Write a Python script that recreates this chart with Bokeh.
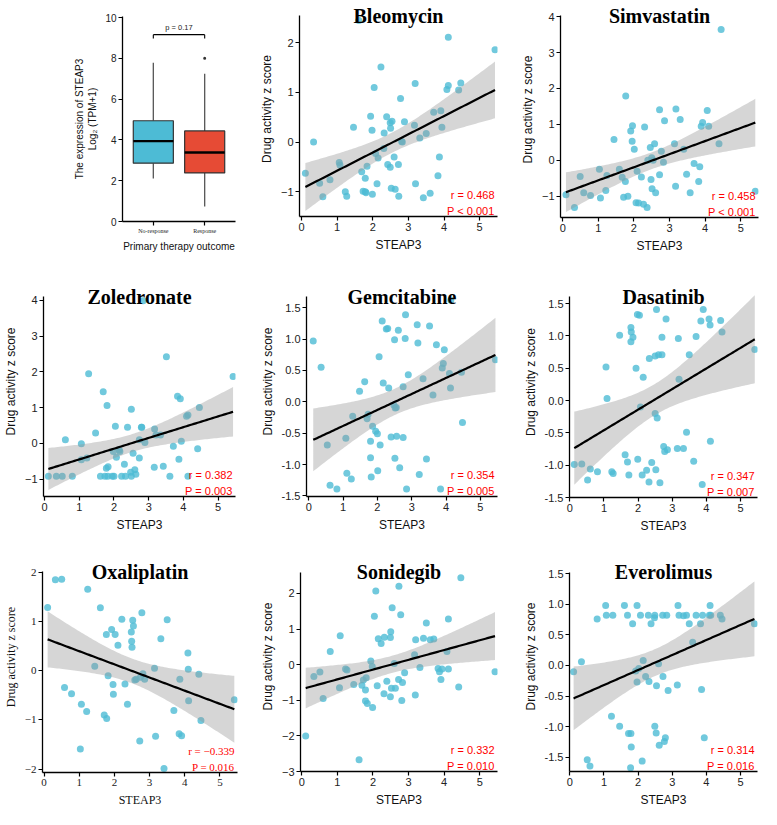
import numpy as np
from bokeh.plotting import figure
from bokeh.layouts import column, row
from bokeh.models import Range1d, FixedTicker, PrintfTickFormatter, Label
from bokeh.embed import file_html
from bokeh.resources import INLINE

# ---------------- boxplot data ----------------
groups = ["No-response", "Response"]
box_lower = [2.11, 0.73]
box_q1 = [2.86, 2.38]
box_median = [3.94, 3.38]
box_q3 = [4.94, 4.44]
box_upper = [7.78, 7.24]
box_colors = ["#4DBBD5", "#E64B35"]
outlier_group = [2]
outlier_values = [8.0]
bracket_y = 9.16
bracket_tip = 8.97
p_value_text = "p = 0.17"
box_yticks = [0, 2, 4, 6, 8, 10]

steap3_ticks = [0, 1, 2, 3, 4, 5]

# ---------------- scatter data ----------------
bleomycin_x = [0.11, 0.34, 0.51, 0.60, 0.80, 1.06, 1.08, 1.23, 1.27, 1.46,
               1.61, 1.69, 1.73, 1.79, 1.79, 1.81, 1.84, 1.94, 1.98, 1.99,
               2.04, 2.08, 2.12, 2.15, 2.23, 2.31, 2.32, 2.39, 2.42, 2.49,
               2.50, 2.49, 2.54, 2.52, 2.60, 2.63, 2.72, 2.73, 2.78, 2.81,
               2.83, 2.89, 3.17, 3.19, 3.20, 3.32, 3.42, 3.50, 3.61, 3.71,
               3.83, 3.87, 3.91, 3.94, 4.08, 4.12, 4.12, 4.41, 4.47, 5.43]
bleomycin_y = [-0.63, 0.00, -0.83, -1.10, -0.76, -0.41, -0.46, -1.00, -1.09, 0.30,
               2.45, -0.60, -0.99, -0.73, -1.00, -1.02, -0.49, 0.52, 0.24, -1.05,
               1.10, -0.23, -0.84, -0.32, 1.51, -0.13, 0.18, 0.51, -0.45, 0.39,
               0.28, -0.51, 0.42, -0.93, -0.30, -0.95, -0.45, -1.09, 0.88, 0.01,
               0.00, 0.41, 0.34, 1.18, -0.84, 0.08, -1.12, 0.17, -1.03, 0.60,
               -0.68, -0.30, 0.63, 0.30, 1.06, 1.14, 2.11, 1.05, 1.19, 1.86]

simvastatin_x = [0.09, 0.33, 0.49, 0.59, 0.78, 1.03, 1.06, 1.21, 1.24, 1.44,
                 1.59, 1.67, 1.71, 1.76, 1.77, 1.83, 1.91, 1.95, 1.96, 2.01,
                 2.06, 2.09, 2.13, 2.21, 2.27, 2.30, 2.37, 2.39, 2.46, 2.48,
                 2.50, 2.51, 2.54, 2.58, 2.61, 2.72, 2.72, 2.77, 2.83, 2.86,
                 3.14, 3.17, 3.18, 3.30, 3.40, 3.48, 3.58, 3.69, 3.82, 3.85,
                 3.89, 3.93, 4.06, 4.10, 4.39, 4.45, 5.41]
simvastatin_y = [-0.96, -1.31, -0.45, -0.90, -0.98, -0.25, -1.05, -0.84, -0.42, 0.58,
                 -0.25, -0.47, -1.03, -0.59, 1.79, -1.00, 0.82, 0.53, 0.96, 0.31,
                 -1.18, -0.30, -1.19, -0.46, -1.22, 0.93, -1.31, 0.00, 0.36, -0.53,
                 0.07, -0.79, 0.00, 0.46, -0.90, -0.40, 1.41, 0.25, -0.05, 1.10,
                 0.46, -0.72, 1.43, 1.14, 0.31, -0.39, -0.90, -0.09, -0.59, -0.18,
                 0.95, 1.05, 1.39, 0.95, 0.46, 3.64, -0.86]

zoledronate_x = [0.11, 0.34, 0.51, 0.60, 0.80, 1.06, 1.06, 1.22, 1.27, 1.47,
                 1.61, 1.69, 1.74, 1.78, 1.80, 1.83, 1.82, 1.95, 1.98, 2.00,
                 2.04, 2.07, 2.15, 2.17, 2.22, 2.30, 2.33, 2.39, 2.48, 2.50,
                 2.50, 2.55, 2.60, 2.63, 2.73, 2.73, 2.79, 2.80, 2.84, 2.89,
                 3.16, 3.17, 3.21, 3.34, 3.42, 3.51, 3.61, 3.71, 3.83, 3.87,
                 3.91, 3.94, 4.09, 4.13, 4.13, 4.41, 4.46, 5.43]
zoledronate_y = [-0.92, -0.92, -0.92, 0.10, -0.92, -0.01, -0.46, -0.41, 1.95, 0.29,
                 -0.92, 1.44, -0.92, -0.70, 1.06, -0.66, -0.92, -0.92, -0.23, -0.92,
                 0.48, -0.39, -0.19, -0.23, -0.92, -0.59, -0.92, 0.45, -0.81, 0.95,
                 -0.92, -0.28, -0.74, -0.87, -0.41, 0.10, 0.45, 0.45, 3.99, 0.02,
                 -0.67, 0.40, 0.23, 0.23, -0.64, 2.42, -0.92, -0.08, 1.32, -0.45,
                 1.25, 0.06, 0.76, 0.79, -0.92, -0.15, 1.00, 1.87]

gemcitabine_x = [0.13, 0.36, 0.54, 0.62, 0.82, 1.08, 1.11, 1.24, 1.28, 1.48,
                 1.63, 1.70, 1.73, 1.80, 1.80, 1.82, 1.86, 1.95, 2.00, 2.01,
                 2.05, 2.08, 2.14, 2.17, 2.26, 2.30, 2.33, 2.40, 2.48, 2.50,
                 2.51, 2.52, 2.55, 2.56, 2.61, 2.65, 2.75, 2.75, 2.81, 2.82,
                 2.85, 2.90, 3.16, 3.18, 3.22, 3.33, 3.43, 3.52, 3.62, 3.72,
                 3.89, 3.92, 3.84, 3.95, 4.10, 4.13, 4.14, 4.45, 4.48, 5.44]
gemcitabine_y = [0.97, 0.55, -0.69, -1.33, -1.39, -0.58, -1.14, -1.23, -0.23, 0.17,
                 0.32, -0.27, -0.20, -0.63, -0.89, -1.20, -0.39, -0.47, -0.51, -1.10,
                 0.72, -0.69, 1.29, 0.30, 1.16, 1.17, 0.22, -0.56, -0.05, 0.99,
                 -0.90, -0.10, -0.09, -0.55, 1.14, -1.05, 0.24, -0.57, 1.01, 1.39,
                 -1.39, 0.43, 1.23, 0.94, -1.16, 0.37, -0.91, 1.21, 0.11, 0.91,
                 0.54, 0.61, -1.39, 0.83, 0.45, 0.22, 1.62, 0.47, -0.33, 0.67]

dasatinib_x = [0.13, 0.35, 0.52, 0.60, 0.81, 1.06, 1.09, 1.23, 1.27, 1.46,
               1.62, 1.69, 1.73, 1.79, 1.80, 1.79, 1.85, 1.94, 1.98, 1.99,
               2.04, 2.07, 2.12, 2.15, 2.25, 2.32, 2.33, 2.40, 2.50, 2.50,
               2.52, 2.54, 2.56, 2.60, 2.64, 2.70, 2.70, 2.75, 2.78, 2.82,
               2.86, 3.15, 3.18, 3.20, 3.33, 3.42, 3.50, 3.63, 3.70, 3.84,
               3.88, 3.91, 4.08, 4.11, 4.12, 4.42, 4.46, 5.42]
dasatinib_y = [-0.99, -0.98, -1.23, -1.06, -1.10, 0.52, 0.03, -1.10, -1.13, 1.01,
               -0.84, -0.95, -1.15, 1.13, 1.06, 0.91, 0.98, 0.50, 1.33, -0.91,
               1.32, -0.10, -1.15, 0.36, -1.08, -1.26, 0.65, -0.96, 0.69, -0.20,
               -1.07, 1.41, -0.27, 0.71, -1.27, 0.71, 0.98, -0.71, -0.79, 1.26,
               -0.76, -0.74, 0.96, 0.33, -0.74, -0.49, 0.71, -0.94, 0.99, 1.23,
               -1.30, 1.41, 1.26, 1.17, -0.63, 1.24, 1.06, 0.79]

oxaliplatin_x = [0.10, 0.32, 0.50, 0.58, 0.78, 1.03, 1.06, 1.21, 1.24, 1.44,
                 1.60, 1.71, 1.77, 1.78, 1.82, 1.92, 1.96, 1.97, 2.02, 2.10,
                 2.21, 2.30, 2.37, 2.48, 2.49, 2.50, 2.52, 2.54, 2.58, 2.62,
                 2.72, 2.74, 2.78, 2.81, 2.86, 3.14, 3.17, 3.32, 3.41, 3.50,
                 3.69, 3.84, 3.86, 3.91, 4.09, 4.10, 4.11, 4.40, 4.46, 5.41]
oxaliplatin_y = [1.29, 1.85, 1.86, -0.34, -0.47, -1.59, -0.68, -0.83, 1.66, 0.09,
                 1.28, -0.90, 0.74, -0.97, -0.10, 0.84, -0.28, -0.48, 0.74, 0.52,
                 1.05, -0.27, -0.68, 0.79, 0.60, 0.48, 1.03, 0.91, -0.19, -0.17,
                 -1.43, -0.13, 1.18, -0.06, -0.17, 0.05, -1.33, 0.65, -1.99, 1.04,
                 -0.81, -1.28, -0.17, -1.32, 0.36, 0.03, -0.61, -0.07, -1.01, -0.59]

sonidegib_x = [0.11, 0.34, 0.51, 0.60, 0.80, 1.06, 1.08, 1.23, 1.27, 1.46,
               1.61, 1.69, 1.73, 1.79, 1.79, 1.81, 1.84, 1.94, 1.98, 1.99,
               2.04, 2.08, 2.12, 2.15, 2.23, 2.31, 2.32, 2.39, 2.49, 2.49,
               2.50, 2.54, 2.52, 2.60, 2.63, 2.72, 2.73, 2.78, 2.81, 2.83,
               2.89, 3.17, 3.20, 3.19, 3.32, 3.42, 3.50, 3.61, 3.71, 3.83,
               3.87, 3.91, 3.94, 4.08, 4.12, 4.12, 4.41, 4.47, 5.43]
sonidegib_y = [-2.00, -0.33, -0.21, -0.95, 0.37, -0.65, 0.81, -0.12, -0.15, -0.56,
               -2.67, -0.58, -0.43, -0.71, -1.02, -0.37, -1.09, 0.10, -0.05, -1.20,
               1.36, 2.07, -0.59, 0.73, 0.59, -0.82, 0.77, -0.47, 0.76, -0.90,
               0.92, 1.60, -0.66, 0.03, -0.66, -0.42, 2.20, 1.40, -1.01, -0.50,
               -0.23, 0.28, 0.70, -0.85, -0.08, 0.74, 1.17, 0.70, 0.72, -0.11,
               -0.20, -0.42, -0.12, 0.37, 1.28, -0.12, -0.63, 2.44, -0.20]

everolimus_x = [0.11, 0.34, 0.51, 0.59, 0.80, 1.05, 1.07, 1.22, 1.26, 1.46,
                1.60, 1.69, 1.72, 1.79, 1.78, 1.80, 1.84, 1.93, 1.97, 1.97,
                2.02, 2.07, 2.12, 2.15, 2.22, 2.30, 2.32, 2.38, 2.48, 2.49,
                2.49, 2.53, 2.54, 2.60, 2.62, 2.72, 2.73, 2.77, 2.80, 2.84,
                2.88, 3.15, 3.17, 3.20, 3.33, 3.42, 3.50, 3.60, 3.70, 3.83,
                3.86, 3.89, 3.94, 4.09, 4.11, 4.13, 4.41, 4.46, 5.41]
everolimus_y = [-0.10, 0.06, -1.54, -1.64, 0.76, 0.98, 0.82, -0.83, 0.82, -0.99,
                0.98, 0.82, -1.11, -1.11, -1.67, -1.33, 0.68, -0.09, 0.98, -0.27,
                -0.05, 0.82, -1.56, 0.08, -0.18, 0.82, -0.26, 0.68, 0.78, 0.82,
                -0.99, -1.10, -0.33, 0.03, -1.30, 0.82, -0.18, -1.24, -1.18, 0.82,
                -0.41, -0.32, 0.98, 0.82, 0.81, 0.82, 0.68, 0.38, 0.82, 0.68,
                -0.39, 0.82, -1.18, 0.82, 0.98, 0.82, 0.82, 0.76, 0.68]

drug_names = ["Bleomycin", "Simvastatin", "Zoledronate", "Gemcitabine", "Dasatinib",
              "Oxaliplatin", "Sonidegib", "Everolimus"]
r_texts = ["r = 0.468", "r = 0.458", "r = 0.382", "r = 0.354", "r = 0.347",
           "r = \u22120.339", "r = 0.332", "r = 0.314"]
p_texts = ["P < 0.001", "P < 0.001", "P = 0.003", "P = 0.005", "P = 0.007",
           "P = 0.016", "P = 0.010", "P = 0.016"]
int_ticks_bleo = [-1, 0, 1, 2]
int_ticks_4 = [-1, 0, 1, 2, 3, 4]
half_ticks = [-1.5, -1.0, -0.5, 0.0, 0.5, 1.0, 1.5]
int_ticks_oxa = [-2, -1, 0, 1, 2]
int_ticks_soni = [-3, -2, -1, 0, 1, 2]

POINT = "#4DBBD5"
SANS = "Liberation Sans"
SERIF = "Liberation Serif"


def t975(df):
    z = 1.959963985
    g1 = (z ** 3 + z) / 4
    g2 = (5 * z ** 5 + 16 * z ** 3 + 3 * z) / 96
    g3 = (3 * z ** 7 + 19 * z ** 5 + 17 * z ** 3 - 15 * z) / 384
    return z + g1 / df + g2 / df ** 2 + g3 / df ** 3


def fit(xs, ys):
    x = np.asarray(xs, float)
    y = np.asarray(ys, float)
    n = len(x)
    b, a = np.polyfit(x, y, 1)
    grid = np.linspace(x.min(), x.max(), 100)
    yhat = a + b * grid
    resid = y - (a + b * x)
    s = np.sqrt(np.sum(resid ** 2) / (n - 2))
    sxx = np.sum((x - x.mean()) ** 2)
    se = s * np.sqrt(1.0 / n + (grid - x.mean()) ** 2 / sxx)
    tq = t975(n - 2)
    return grid, yhat, yhat - tq * se, yhat + tq * se


def base_fig(w, h, bl, br, bt, bb, xr, yr, font, tick_size="11px", label_size="12px"):
    p = figure(width=w, height=h, x_range=Range1d(*xr), y_range=Range1d(*yr),
               output_backend="svg", toolbar_location=None, frame_align=False,
               min_border_left=bl, min_border_right=br,
               min_border_top=bt, min_border_bottom=bb)
    p.xgrid.visible = False
    p.ygrid.visible = False
    p.outline_line_color = None
    p.background_fill_color = "white"
    p.border_fill_color = "white"
    for ax in (p.xaxis, p.yaxis):
        ax.axis_line_color = "black"
        ax.axis_line_width = 1.3
        ax.major_tick_line_color = "black"
        ax.major_tick_line_width = 1.2
        ax.major_tick_out = 4
        ax.major_tick_in = 0
        ax.minor_tick_line_color = None
        ax.major_label_text_font = font
        ax.major_label_text_font_size = tick_size
        ax.major_label_text_color = "#222222"
        ax.major_label_standoff = 2
        ax.axis_label_text_font = font
        ax.axis_label_text_font_size = label_size
        ax.axis_label_text_font_style = "normal"
        ax.axis_label_text_color = "#111111"
        ax.axis_label_standoff = 4
    return p


def scatter_panel(idx, xs, ys, yticks, yfmt, xr, yr, geom, serif=False):
    # geom: canvas width/height, left/right borders, distance from canvas top
    # to the top of the y axis line, bottom border
    w, h, bl, br, axis_top, bb = geom
    font = SERIF if serif else SANS
    frame_top = 1
    axis_h = h - axis_top - bb
    y_end = yr[1] + (axis_top - frame_top) * (yr[1] - yr[0]) / axis_h
    p = base_fig(w, h, bl, br, frame_top, bb, xr, (yr[0], y_end), font)
    p.yaxis.bounds = (yr[0], yr[1])
    p.xaxis.ticker = FixedTicker(ticks=steap3_ticks)
    p.yaxis.ticker = FixedTicker(ticks=yticks)
    if yfmt:
        p.yaxis.formatter = PrintfTickFormatter(format=yfmt)
    p.xaxis.axis_label = "STEAP3"
    p.yaxis.axis_label = "Drug activity z score"
    p.scatter(xs, ys, size=7, fill_color=POINT, fill_alpha=0.8, line_color=None)
    gx, yh, lo, hi = fit(xs, ys)
    p.varea(x=gx, y1=lo, y2=hi, fill_color="#999999", fill_alpha=0.4)
    p.line(gx, yh, line_color="black", line_width=2.2)
    p.add_layout(Label(x=(xr[0] + xr[1]) / 2, y=yr[1], text=drug_names[idx],
                       text_font=SERIF, text_font_size="20px", text_font_style="bold",
                       text_align="center", text_baseline="alphabetic", text_color="black"))
    p.add_layout(Label(x=xr[1], y=yr[0], x_offset=-3, y_offset=22, text=r_texts[idx],
                       text_font=font, text_font_size="11px", text_color="#FF0000",
                       text_align="right", text_baseline="alphabetic"))
    p.add_layout(Label(x=xr[1], y=yr[0], x_offset=-3, y_offset=6, text=p_texts[idx],
                       text_font=font, text_font_size="11px", text_color="#FF0000",
                       text_align="right", text_baseline="alphabetic"))
    return p


# ---------------- boxplot panel ----------------
pb = base_fig(255, 265, 122, 20, 16, 44, (0.4, 2.6), (0, 10.05), SANS,
              tick_size="10px", label_size="10px")
pos = [i + 1 for i in range(len(groups))]
half = 0.39
pb.segment(x0=pos, y0=box_q3, x1=pos, y1=box_upper, line_color="#555555", line_width=1.3)
pb.segment(x0=pos, y0=box_lower, x1=pos, y1=box_q1, line_color="#555555", line_width=1.3)
pb.vbar(x=pos, width=2 * half, bottom=box_q1, top=box_q3, fill_color=box_colors,
        line_color="#333333", line_width=1.2)
pb.segment(x0=[x - half for x in pos], y0=box_median, x1=[x + half for x in pos],
           y1=box_median, line_color="black", line_width=2.4)
pb.scatter(outlier_group, outlier_values, size=3, fill_color="#333333", line_color=None)
pb.segment(x0=[pos[0], pos[0], pos[1]], y0=[bracket_y] * 3,
           x1=[pos[1], pos[0], pos[1]], y1=[bracket_y, bracket_tip, bracket_tip],
           line_color="black", line_width=1.1)
pb.add_layout(Label(x=(pos[0] + pos[1]) / 2, y=bracket_y, y_offset=3, text=p_value_text,
                    text_font=SANS, text_font_size="7.5px", text_align="center",
                    text_baseline="bottom", text_color="#222222"))
pb.xaxis.ticker = FixedTicker(ticks=pos)
pb.xaxis.major_label_overrides = {pos[i]: groups[i] for i in range(len(groups))}
pb.xaxis.major_label_text_font = SERIF
pb.xaxis.major_label_text_font_size = "6px"
pb.yaxis.ticker = FixedTicker(ticks=box_yticks)
pb.xaxis.axis_label = "Primary therapy outcome"
pb.yaxis.axis_label = "The expression of STEAP3\nLog\u2082 (TPM+1)"

# ---------------- scatter panels ----------------
p_bleo = scatter_panel(0, bleomycin_x, bleomycin_y, int_ticks_bleo, None,
                       (-0.055, 5.5), (-1.5, 2.55), (255, 265, 44, 13, 15, 49))
p_simv = scatter_panel(1, simvastatin_x, simvastatin_y, int_ticks_4, None,
                       (-0.063, 5.5), (-1.59, 4.03), (251, 265, 50, 3, 15, 48))
p_zole = scatter_panel(2, zoledronate_x, zoledronate_y, int_ticks_4, None,
                       (-0.03, 5.5), (-1.49, 4.11), (255, 275, 39, 20, 31, 44))
p_gemc = scatter_panel(3, gemcitabine_x, gemcitabine_y, half_ticks, "%.1f",
                       (-0.066, 5.5), (-1.51, 1.68), (255, 275, 51, 13, 31, 44))
p_dasa = scatter_panel(4, dasatinib_x, dasatinib_y, half_ticks, "%.1f",
                       (-0.01, 5.5), (-1.5, 1.61), (251, 275, 59, 4, 31, 43))
p_oxal = scatter_panel(5, oxaliplatin_x, oxaliplatin_y, int_ticks_oxa, None,
                       (-0.046, 5.5), (-2.07, 2.02), (255, 269, 39, 18, 31, 37), serif=True)
p_soni = scatter_panel(6, sonidegib_x, sonidegib_y, int_ticks_soni, None,
                       (-0.036, 5.5), (-3.0, 2.59), (255, 269, 45, 13, 32, 37))
p_ever = scatter_panel(7, everolimus_x, everolimus_y, half_ticks, "%.1f",
                       (-0.01, 5.5), (-1.73, 1.52), (251, 269, 59, 4, 32, 37))

layout = column(row(pb, p_bleo, p_simv), row(p_zole, p_gemc, p_dasa),
                row(p_oxal, p_soni, p_ever))

open("out.html", "w").write(file_html(layout, INLINE))
